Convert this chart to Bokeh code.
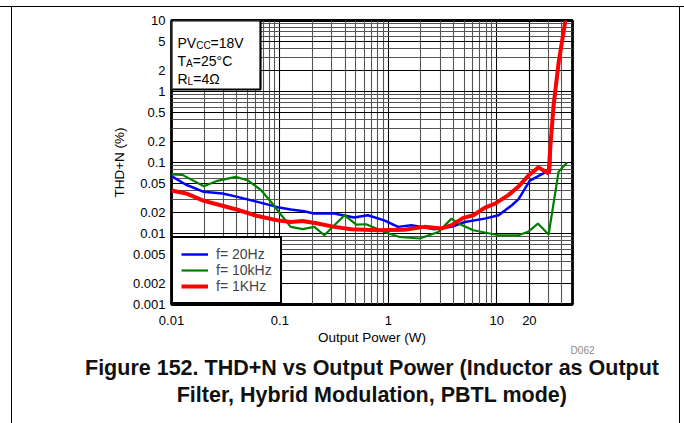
from bokeh.plotting import figure
from bokeh.models import (FixedTicker, Label, BoxAnnotation, Title,
                          Legend, LegendItem, Range1d)
from bokeh.embed import file_html
from bokeh.resources import INLINE

# ---------------- data (Output power in W, THD+N in %) ----------------
power_20hz = [0.01, 0.0135, 0.0198, 0.0295, 0.0406, 0.0622, 0.0953, 0.126, 0.167, 0.206,
              0.316, 0.484, 0.648, 0.918, 1.23, 1.63, 2.67, 3.83, 5.08, 7.74,
              10.4, 13.8, 15.9, 20.2, 27.8, 31.0, 31.5, 33.5, 37.3, 43.0]
thd_20hz = [0.0643, 0.049, 0.0386, 0.0367, 0.0328, 0.0279, 0.0235, 0.0218, 0.0206, 0.0191,
            0.0191, 0.0168, 0.0181, 0.0153, 0.0124, 0.0131, 0.0115, 0.0124, 0.0145, 0.0162,
            0.0181, 0.025, 0.0305, 0.0555, 0.072, 0.074, 0.2, 0.65, 2.6, 10.0]

power_10khz = [0.01, 0.0126, 0.0199, 0.0265, 0.0392, 0.0503, 0.0667, 0.0826, 0.102, 0.126,
               0.162, 0.208, 0.257, 0.318, 0.394, 0.506, 0.625, 0.924, 1.27, 1.95,
               2.89, 3.83, 4.42, 6.08, 10.4, 15.9, 19.7, 24.0, 30.1, 37.2, 44.4]
thd_10khz = [0.068, 0.067, 0.0464, 0.0552, 0.0628, 0.0563, 0.041, 0.028, 0.0185, 0.0124,
             0.0115, 0.0124, 0.00944, 0.0131, 0.0181, 0.0133, 0.0135, 0.0105, 0.00893, 0.0085,
             0.0105, 0.0162, 0.0138, 0.0111, 0.00944, 0.00944, 0.0107, 0.0138, 0.00968, 0.074, 0.099]

power_1khz = [0.01, 0.014, 0.0199, 0.0284, 0.0406, 0.0622, 0.0953, 0.126, 0.162, 0.223,
              0.318, 0.454, 0.804, 1.41, 2.15, 3.10, 3.83, 4.92, 6.08, 7.80,
              9.64, 12.8, 15.9, 19.7, 24.3, 30.1, 31.5, 33.5, 37.3, 43.0]
thd_1khz = [0.0403, 0.0362, 0.0288, 0.025, 0.0216, 0.0176, 0.0153, 0.0145, 0.015, 0.0138,
            0.0124, 0.0115, 0.0111, 0.0113, 0.0124, 0.0118, 0.0131, 0.0166, 0.0181, 0.0232,
            0.0264, 0.0347, 0.046, 0.066, 0.0853, 0.0702, 0.2, 0.65, 2.6, 10.0]

series_labels = ["f= 20Hz", "f= 10kHz", "f= 1KHz"]

x_ticks = [0.01, 0.1, 1, 10, 20]
x_tick_labels = ["0.01", "0.1", "1", "10", "20"]
y_ticks = [0.001, 0.002, 0.005, 0.01, 0.02, 0.05, 0.1, 0.2, 0.5, 1, 2, 5, 10]
y_tick_labels = ["0.001", "0.002", "0.005", "0.01", "0.02", "0.05", "0.1", "0.2", "0.5",
                 "1", "2", "5", "10"]

x_title = "Output Power (W)"
y_title = "THD+N (%)"
caption_1 = "Figure 152. THD+N vs Output Power (Inductor as Output"
caption_2 = "Filter, Hybrid Modulation, PBTL mode)"
doc_id = "D062"

FONT = "Liberation Sans"

# ---------------- figure ----------------
W, H = 684, 423
p = figure(width=W, height=H, title=None,
           x_axis_type="log", y_axis_type="log",
           x_range=Range1d(0.01, 50), y_range=Range1d(0.001, 10),
           output_backend="svg", toolbar_location=None,
           min_border_left=171, min_border_right=112,
           min_border_top=20, min_border_bottom=119)
p.background_fill_color = "white"
p.border_fill_color = "white"
p.border_fill_alpha = 0
p.outline_line_color = "black"
p.outline_line_width = 2.8
# page rules of the datasheet (top and side lines), drawn behind the transparent border area
p.styles = {"background": "linear-gradient(#000,#000) 0px 6px / 684px 1.2px no-repeat, "
                          "linear-gradient(#000,#000) 11px 6px / 1.2px 417px no-repeat, "
                          "linear-gradient(#000,#000) 679px 6px / 1.2px 417px no-repeat, white"}

x_minor = [m * 10.0 ** e for e in range(-2, 2) for m in range(2, 10) if m * 10.0 ** e <= 50]
y_minor = [m * 10.0 ** e for e in range(-3, 1) for m in (3, 4, 6, 7, 8, 9)]
p.xaxis.ticker = FixedTicker(ticks=x_ticks, minor_ticks=x_minor)
p.yaxis.ticker = FixedTicker(ticks=y_ticks, minor_ticks=y_minor)
p.xgrid.ticker = p.xaxis[0].ticker
p.ygrid.ticker = p.yaxis[0].ticker
p.xaxis.major_label_overrides = dict(zip(x_ticks, x_tick_labels))
p.yaxis.major_label_overrides = dict(zip(y_ticks, y_tick_labels))

for ax in (p.xaxis[0], p.yaxis[0]):
    ax.axis_line_color = None
    ax.major_tick_line_color = None
    ax.minor_tick_line_color = None
    ax.major_tick_out = 0
    ax.major_tick_in = 0
    ax.minor_tick_out = 0
    ax.minor_tick_in = 0
    ax.major_label_text_font = FONT
    ax.major_label_text_font_size = "13px"
    ax.major_label_text_color = "black"
    ax.axis_label_text_font = FONT
    ax.axis_label_text_font_size = "13.5px"
    ax.axis_label_text_font_style = "normal"
    ax.axis_label_text_color = "black"
p.xaxis.axis_label = x_title
p.yaxis.axis_label = y_title
p.xaxis.major_label_standoff = 11
p.xaxis.axis_label_standoff = 2
p.yaxis.major_label_standoff = 6
p.yaxis.axis_label_standoff = 3

for g in (p.xgrid[0], p.ygrid[0]):
    g.grid_line_color = "black"
    g.grid_line_width = 1.1
    g.grid_line_alpha = 1
    g.minor_grid_line_color = "#555555"
    g.minor_grid_line_width = 1.1
    g.minor_grid_line_alpha = 1

# ---------------- curves ----------------
r_b = p.line(power_20hz, thd_20hz, line_color="#0000ff", line_width=2.5)
r_g = p.line(power_10khz, thd_10khz, line_color="#008000", line_width=2.2)
r_r = p.line(power_1khz, thd_1khz, line_color="#ff0000", line_width=4)

legend = Legend(items=[LegendItem(label=series_labels[0], renderers=[r_b]),
                       LegendItem(label=series_labels[1], renderers=[r_g]),
                       LegendItem(label=series_labels[2], renderers=[r_r])],
                location=(0, 0))
legend.border_line_color = "black"
legend.border_line_width = 2
legend.border_line_alpha = 1
legend.background_fill_color = "white"
legend.background_fill_alpha = 1
legend.label_text_font = FONT
legend.label_text_font_size = "14px"
legend.glyph_width = 27
legend.glyph_height = 16
legend.label_height = 16
legend.spacing = 0
legend.padding = 8
legend.label_standoff = 8
legend.margin = 0
p.add_layout(legend)

# ---------------- condition box ----------------
FH = 284  # frame height in px
p.add_layout(BoxAnnotation(left=0, right=89, top=FH, bottom=FH - 69,
                           left_units="screen", right_units="screen",
                           top_units="screen", bottom_units="screen",
                           fill_color="white", fill_alpha=1,
                           line_color="black", line_alpha=1, line_width=2.2))

def txt(x, y, s, size="14px", color="black", **kw):
    p.add_layout(Label(x=x, y=y, x_units="screen", y_units="screen", text=s,
                       text_font=FONT, text_font_size=size, text_color=color,
                       text_baseline="alphabetic", **kw))

rows = [(262, ["PV", "CC", "=18V"]), (244, ["T", "A", "=25°C"]), (226, ["R", "L", "=4Ω"])]
widths = {"PV": 18.7, "T": 8.6, "R": 10.1, "CC": 14.4, "A": 6.7, "L": 5.6}
for yb, (a, b, c) in rows:
    x0 = 6
    txt(x0, yb, a)
    x1 = x0 + widths[a]
    txt(x1, yb - 3, b, size="10px")
    txt(x1 + widths[b], yb, c)

# ---------------- captions (below the axis) ----------------
p.add_layout(Title(text=doc_id, align="right", offset=-22, standoff=-10,
                   text_font=FONT, text_font_size="10px", text_font_style="normal",
                   text_color="#8a8a8a"), "below")
p.add_layout(Title(text=caption_1, align="center", offset=5, standoff=6,
                   text_font=FONT, text_font_size="21.5px", text_font_style="bold",
                   text_color="#111111"), "below")
p.add_layout(Title(text=caption_2, align="center", offset=15, standoff=-3,
                   text_font=FONT, text_font_size="21.5px", text_font_style="bold",
                   text_color="#111111"), "below")

open("out.html", "w").write(file_html(p, INLINE))
